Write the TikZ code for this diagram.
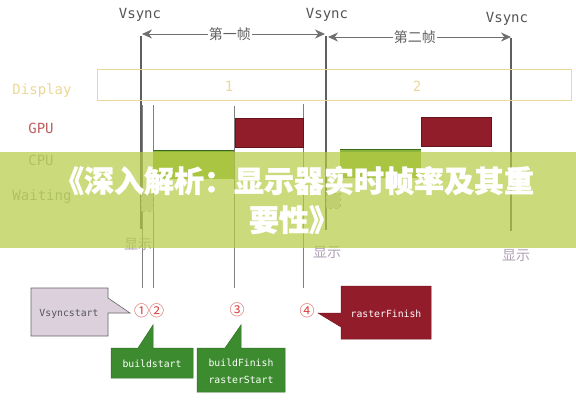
\documentclass[tikz,border=0pt]{standalone}
\usepackage{fontspec}
\setmonofont{DejaVu Sans Mono}
\newfontfamily\cjk{Noto Sans CJK SC}
\newfontfamily\cjkheavy{Noto Sans CJK SC}[BoldFeatures={FakeBold=1.2}]
\usetikzlibrary{arrows.meta}
\definecolor{vgray}{RGB}{95,95,95}
\definecolor{tgray}{RGB}{85,85,85}
\definecolor{dispc}{RGB}{236,216,150}
\definecolor{gpuc}{RGB}{190,95,95}
\definecolor{lblgray}{RGB}{160,165,170}
\definecolor{redblk}{RGB}{145,28,42}
\definecolor{grnblk}{RGB}{140,180,58}
\definecolor{grnedge}{RGB}{55,105,30}
\definecolor{callgrn}{RGB}{61,139,47}
\definecolor{callred}{RGB}{147,28,43}
\definecolor{callpur}{RGB}{221,208,221}
\definecolor{numred}{RGB}{215,70,70}
\definecolor{xianshi}{RGB}{175,160,180}
\definecolor{bannerc}{RGB}{182,205,68}
\tikzset{
  vline/.style={draw=vgray, line width=1.1pt},
  tline/.style={draw=gray, line width=0.5pt},
  arr/.style={draw=vgray!90, line width=0.8pt, {Stealth[length=10pt,width=9pt]}-{Stealth[length=10pt,width=9pt]}},
  framelab/.style={font=\cjk\fontsize{14}{16}\selectfont, text=vgray, fill=white, inner sep=1pt},
  vsynclab/.style={font=\ttfamily\fontsize{14}{16}\selectfont, text=tgray},
  rowlab/.style={font=\ttfamily\fontsize{14}{16}\selectfont},
  xslab/.style={font=\cjk\fontsize{14}{16}\selectfont, text=xianshi},
  numlab/.style={font=\cjk\fontsize{15}{16}\selectfont, text=numred, inner sep=0pt},
  calltext/.style={font=\ttfamily\fontsize{9.8}{17}\selectfont, align=center},
}
\begin{document}
\begin{tikzpicture}[x=1pt,y=-1pt]
\useasboundingbox (0,0) rectangle (576,400);
\fill[white] (0,0) rectangle (576,400);
% Vsync labels
\node[vsynclab] (vs1) at (140,15) {Vsync};
\node[vsynclab] (vs2) at (327,15) {Vsync};
\node[vsynclab] (vs3) at (507,19) {Vsync};
% vertical Vsync lines
\coordinate (v1t) at (141,36); \coordinate (v1b) at (141,229);
\coordinate (v2t) at (326,36); \coordinate (v2b) at (326,230);
\coordinate (v3t) at (511,38); \coordinate (v3b) at (511,231);
\draw[vline] (v1t) -- (v1b);
\draw[vline] (v2t) -- (v2b);
\draw[vline] (v3t) -- (v3b);
% thin event lines
\coordinate (t1t) at (142,105); \coordinate (t1b) at (142,288);
\coordinate (t2t) at (153,105); \coordinate (t2b) at (153,288);
\coordinate (t3t) at (234,106); \coordinate (t3b) at (234,288);
\coordinate (t4t) at (303,104); \coordinate (t4b) at (303,288);
\draw[tline] (t1t) -- (t1b);
\draw[tline] (t2t) -- (t2b);
\draw[tline] (t3t) -- (t3b);
\draw[tline] (t4t) -- (t4b);
% frame arrows
\coordinate (a1l) at (142,34); \coordinate (a1r) at (325,34);
\coordinate (a2l) at (328,37); \coordinate (a2r) at (511,37);
\draw[arr] (a1l) -- node[framelab, pos=0.48] (f1) {第一帧} (a1r);
\draw[arr] (a2l) -- node[framelab, pos=0.475] (f2) {第二帧} (a2r);
% row labels
\node[rowlab, text=dispc] (ldisp) at (42,91) {Display};
\node[rowlab, text=gpuc] (lgpu) at (41,128) {GPU};
\node[rowlab, text=lblgray] (lcpu) at (41,160) {CPU};
\node[rowlab, text=lblgray] (lwait) at (42,197) {Waiting};
% display bar
\draw[dispc, line width=0.9pt] (97,69) rectangle (571,100);
\node[rowlab, text=dispc] (d1) at (229,86) {1};
\node[rowlab, text=dispc] (d2) at (417,86) {2};
% GPU blocks
\filldraw[fill=redblk, draw=redblk!70!black, line width=0.5pt] (235,118) rectangle (303,147);
\filldraw[fill=redblk, draw=redblk!70!black, line width=0.5pt] (421,117) rectangle (491,146);
% CPU blocks
\fill[grnblk] (153,150) rectangle (234,179);
\draw[grnedge, line width=0.9pt] (153,150) -- (234,150);
\fill[grnblk] (340,149) rectangle (421,178);
\draw[grnedge, line width=0.9pt] (340,149) -- (421,149);
% waiting blocks
\filldraw[fill=gray!30, draw=gray!60, dashed, line width=0.5pt] (141,194) rectangle (153,211);
\filldraw[fill=gray!30, draw=gray!60, dashed, line width=0.5pt] (326,193) rectangle (340,208);
% 显示 labels
\node[xslab] (x1) at (138,245) {显示};
\node[xslab] (x2) at (327,253) {显示};
\node[xslab] (x3) at (516,256) {显示};
% circled numbers
\node[numlab] (n12) at (149,311) {①②};
\node[numlab] (n3) at (237,310) {③};
\node[numlab] (n4) at (307,311) {④};
% callouts
\filldraw[fill=callpur, draw=gray!80!black, line width=0.6pt]
  (31,288) -- (108,288) -- (108,298) -- (130,313) -- (108,313) -- (108,336) -- (31,336) -- cycle;
\node[calltext, text=tgray] (cvs) at (69,314) {Vsyncstart};
\filldraw[fill=callgrn, draw=callgrn!80!black, line width=0.5pt]
  (111,348) -- (138,348) -- (153,325) -- (153,348) -- (193,348) -- (193,378) -- (111,378) -- cycle;
\node[calltext, text=white] (cbs) at (152,364) {buildstart};
\filldraw[fill=callgrn, draw=callgrn!80!black, line width=0.5pt]
  (197,348) -- (225,348) -- (241,325) -- (241,348) -- (285,348) -- (285,392) -- (197,392) -- cycle;
\node[calltext, text=white] (cbf) at (241,371) {buildFinish\\rasterStart};
\filldraw[fill=callred, draw=callred!80!black, line width=0.5pt]
  (341,286) -- (431,286) -- (431,339) -- (341,339) -- (341,327) -- (318,313) -- (341,313) -- cycle;
\node[calltext, text=white] (crf) at (386,314) {rasterFinish};
% banner overlay
\fill[bannerc, opacity=0.7] (0,152) rectangle (576,248);
\node[font=\cjkheavy\bfseries\fontsize{30}{39}\selectfont, text=white, align=center, inner sep=0pt] (title) at (294,200)
  {《深入解析：显示器实时帧率及其重\\要性》};
\end{tikzpicture}
\end{document}
